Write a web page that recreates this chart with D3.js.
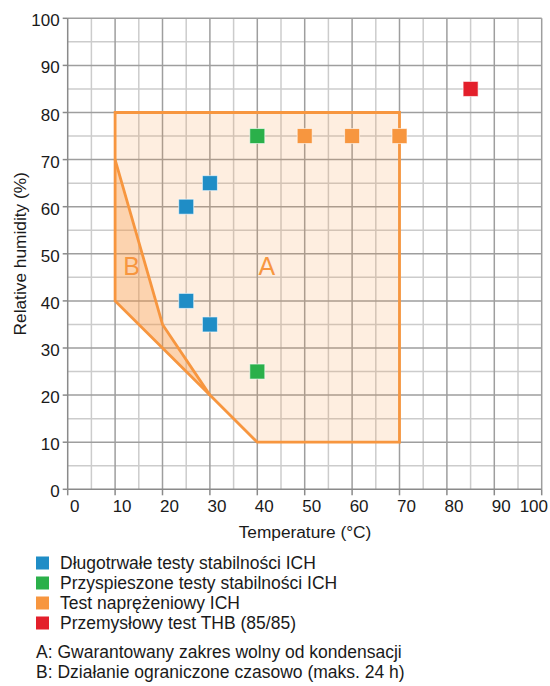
<!DOCTYPE html>
<html><head><meta charset="utf-8">
<script src="https://cdn.jsdelivr.net/npm/d3@7"></script>
<style>
body{margin:0;background:#fff;}
text{font-family:"Liberation Sans",Arial,sans-serif;}
</style></head>
<body><svg id="c" width="550" height="686"></svg>
<script>
const xTicks=[0,10,20,30,40,50,60,70,80,90,100];
const yTicks=[0,10,20,30,40,50,60,70,80,90,100];
const regionA=[[10,80],[70,80],[70,10],[40,10],[30,20],[20,30],[10,40]];
const regionB=[[10,70],[20,35],[30,20],[20,30],[10,40]];
const seriesNames=["Długotrwałe testy stabilności ICH","Przyspieszone testy stabilności ICH","Test naprężeniowy ICH","Przemysłowy test THB (85/85)"];
const seriesColors=["#1f8dc6","#2bb04a","#f7963f","#e31f2b"];
const blueX=[25,30,25,30], blueY=[60,65,40,35];
const greenX=[40,40], greenY=[75,25];
const orangeX=[50,60,70], orangeY=[75,75,75];
const redX=[85], redY=[85];
const notes=["A: Gwarantowany zakres wolny od kondensacji","B: Działanie ograniczone czasowo (maks. 24 h)"];

const svg=d3.select("#c");
const x=d3.scaleLinear().domain([0,100]).range([67.7,541.7]);
const y=d3.scaleLinear().domain([0,100]).range([489.3,18.3]);
const orange="#f7963f";

// grid
const minor=d3.range(5,100,10);
const g=svg.append("g");
g.selectAll(".vm").data(minor).join("line").attr("x1",d=>x(d)).attr("x2",d=>x(d)).attr("y1",y(0)).attr("y2",y(100)).attr("stroke","#cccccc").attr("stroke-width",1.5);
g.selectAll(".hm").data(minor).join("line").attr("y1",d=>y(d)).attr("y2",d=>y(d)).attr("x1",x(0)).attr("x2",x(100)).attr("stroke","#cccccc").attr("stroke-width",1.5);
g.selectAll(".vM").data(xTicks.slice(1)).join("line").attr("x1",d=>x(d)).attr("x2",d=>x(d)).attr("y1",y(0)).attr("y2",y(100)).attr("stroke","#9e9e9e").attr("stroke-width",1.5);
g.selectAll(".hM").data(yTicks.slice(1)).join("line").attr("y1",d=>y(d)).attr("y2",d=>y(d)).attr("x1",x(0)).attr("x2",x(100)).attr("stroke","#9e9e9e").attr("stroke-width",1.5);

// regions
const line=d3.line().x(d=>x(d[0])).y(d=>y(d[1]));
svg.append("path").attr("d",line(regionA)+"Z").attr("fill",orange).attr("fill-opacity",0.16).attr("stroke","none");
svg.append("path").attr("d",line(regionB)+"Z").attr("fill",orange).attr("fill-opacity",0.3).attr("stroke","none");
svg.append("path").attr("d",line(regionA)+"Z").attr("fill","none").attr("stroke",orange).attr("stroke-width",2.8).attr("stroke-linejoin","miter");
svg.append("path").attr("d",line([[10,70],[20,35],[30,20]])).attr("fill","none").attr("stroke",orange).attr("stroke-width",2.8);

svg.append("text").attr("x",x(13.5)).attr("y",y(47.5)+9).attr("text-anchor","middle").attr("font-size",25).attr("fill",orange).text("B");
svg.append("text").attr("x",x(42)).attr("y",y(47.5)+9).attr("text-anchor","middle").attr("font-size",25).attr("fill",orange).text("A");

// axes
const ax=svg.append("g");
ax.append("line").attr("x1",x(0)).attr("x2",x(0)).attr("y1",y(0)).attr("y2",y(100)).attr("stroke","#8a8a8a").attr("stroke-width",1.5);
ax.append("line").attr("x1",x(0)).attr("x2",x(100)).attr("y1",y(0)).attr("y2",y(0)).attr("stroke","#8a8a8a").attr("stroke-width",1.5);
ax.selectAll(".yt").data(yTicks).join("line").attr("x1",x(0)-5).attr("x2",x(0)).attr("y1",d=>y(d)).attr("y2",d=>y(d)).attr("stroke","#8a8a8a").attr("stroke-width",1.5);
ax.selectAll(".xt").data(xTicks).join("line").attr("y1",y(0)).attr("y2",y(0)+6).attr("x1",d=>x(d)).attr("x2",d=>x(d)).attr("stroke","#8a8a8a").attr("stroke-width",1.5);
ax.selectAll(".yl").data(yTicks).join("text").attr("x",x(0)-8).attr("y",d=>y(d)+8).attr("text-anchor","end").attr("font-size",17).attr("fill","#1a1a1a").text(d=>d);
ax.selectAll(".xl").data(xTicks).join("text").attr("x",d=>d===100?548:x(d)+7).attr("y",y(0)+23).attr("text-anchor",d=>d===100?"end":"middle").attr("font-size",17).attr("fill","#1a1a1a").text(d=>d);

svg.append("text").attr("transform",`translate(26,${y(50)}) rotate(-90)`).attr("text-anchor","middle").attr("font-size",17.3).attr("fill","#1a1a1a").text("Relative humidity (%)");
svg.append("text").attr("x",305).attr("y",538).attr("text-anchor","middle").attr("font-size",17.3).attr("fill","#1a1a1a").text("Temperature (°C)");

// points
const groups=[[blueX,blueY],[greenX,greenY],[orangeX,orangeY],[redX,redY]];
const s=15;
groups.forEach((gr,i)=>{
  const pts=gr[0].map((v,j)=>[v,gr[1][j]]);
  svg.append("g").selectAll("rect").data(pts).join("rect")
    .attr("x",d=>x(d[0])-s/2).attr("y",d=>y(d[1])-s/2).attr("width",s).attr("height",s)
    .attr("fill",seriesColors[i]).attr("stroke","#ffffff").attr("stroke-opacity",0.6).attr("stroke-width",1);
});

// legend
const lg=svg.append("g");
seriesNames.forEach((n,i)=>{
  const yy=563+i*20;
  lg.append("rect").attr("x",36).attr("y",yy-6.5).attr("width",13).attr("height",13).attr("fill",seriesColors[i]);
  lg.append("text").attr("x",60).attr("y",yy+6).attr("font-size",17.5).attr("fill","#1a1a1a").text(n);
});
notes.forEach((n,i)=>{
  lg.append("text").attr("x",36).attr("y",658+i*20).attr("font-size",17.5).attr("fill","#1a1a1a").text(n);
});
</script></body></html>
